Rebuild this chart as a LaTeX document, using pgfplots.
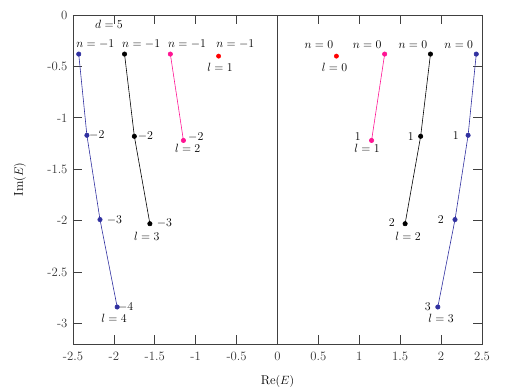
\documentclass[border=0pt]{standalone}
\usepackage{pgfplots}
\pgfplotsset{compat=1.18}
\definecolor{cblue}{RGB}{48,48,160}
\definecolor{cmag}{RGB}{255,20,147}
\definecolor{cred}{RGB}{255,0,0}
\begin{document}
\begin{tikzpicture}[font=\fontsize{12.8}{14}\selectfont]
\useasboundingbox (-73bp,-48bp) rectangle (433bp,344bp);
\begin{axis}[
  at={(0,0)}, anchor=south west,
  scale only axis, width=409bp, height=329bp,
  xmin=-2.5, xmax=2.5, ymin=-3.2, ymax=0,
  xtick={-2.5,-2,-1.5,-1,-0.5,0,0.5,1,1.5,2,2.5},
  xticklabels={-2.5,-2,-1.5,-1,-0.5,0,0.5,1,1.5,2,2.5},
  ytick={0,-0.5,-1,-1.5,-2,-2.5,-3},
  yticklabels={0,-0.5,-1,-1.5,-2,-2.5,-3},
  tick align=inside, major tick length=9bp,
  axis line style={black!75, line width=0.8pt},
  every tick/.style={black!75, line width=0.8pt},
  xticklabel style={yshift=-4bp, text=black!80},
  yticklabel style={xshift=-2bp, text=black!80},
  xlabel={Re$(E)$}, ylabel={Im$(E)$},
  every axis x label/.style={at={(axis description cs:0.5,-0.1146)}, anchor=center},
  every axis y label/.style={at={(axis description cs:-0.1296,0.5)}, anchor=center, rotate=90},
  clip=false,
]
\addplot[black!75, line width=0.8pt] coordinates {(0,0) (0,-3.2)};
% left side
\addplot[cblue, line width=0.6pt, mark=*, mark size=2.2pt] coordinates {(-2.43,-0.38) (-2.33,-1.17) (-2.17,-1.99) (-1.96,-2.84)};
\addplot[black, line width=0.6pt, mark=*, mark size=2.2pt] coordinates {(-1.87,-0.38) (-1.75,-1.18) (-1.56,-2.03)};
\addplot[cmag, line width=0.6pt, mark=*, mark size=2.2pt] coordinates {(-1.31,-0.38) (-1.15,-1.22)};
\addplot[cred, only marks, mark=*, mark size=2.2pt] coordinates {(-0.72,-0.40)};
% right side
\addplot[cblue, line width=0.6pt, mark=*, mark size=2.2pt] coordinates {(2.43,-0.38) (2.33,-1.17) (2.17,-1.99) (1.96,-2.84)};
\addplot[black, line width=0.6pt, mark=*, mark size=2.2pt] coordinates {(1.87,-0.38) (1.75,-1.18) (1.56,-2.03)};
\addplot[cmag, line width=0.6pt, mark=*, mark size=2.2pt] coordinates {(1.31,-0.38) (1.15,-1.22)};
\addplot[cred, only marks, mark=*, mark size=2.2pt] coordinates {(0.72,-0.40)};
% text
\node[anchor=center] at (axis cs:-2.06,-0.093) {$d=5$};
\node[anchor=west, inner sep=0pt, xshift=-2.5bp] at (axis cs:-2.43,-0.285) {$n=-1$};
\node[anchor=west, inner sep=0pt, xshift=-2.5bp] at (axis cs:-1.87,-0.285) {$n=-1$};
\node[anchor=west, inner sep=0pt, xshift=-2.5bp] at (axis cs:-1.31,-0.285) {$n=-1$};
\node[anchor=west, inner sep=0pt, xshift=-2.5bp] at (axis cs:-0.72,-0.285) {$n=-1$};
\node[anchor=east, inner sep=0pt, xshift=-3bp] at (axis cs:2.43,-0.285) {$n=0$};
\node[anchor=east, inner sep=0pt, xshift=-3bp] at (axis cs:1.87,-0.285) {$n=0$};
\node[anchor=east, inner sep=0pt, xshift=-3bp] at (axis cs:1.31,-0.285) {$n=0$};
\node[anchor=east, inner sep=0pt, xshift=-3bp] at (axis cs:0.72,-0.285) {$n=0$};
\node[anchor=west, inner sep=0pt] at (axis cs:-1.094,-1.189) {$-2$};
\node[anchor=west, inner sep=0pt] at (axis cs:-1.709,-1.179) {$-2$};
\node[anchor=west, inner sep=0pt] at (axis cs:-1.477,-2.021) {$-3$};
\node[anchor=west, inner sep=0pt] at (axis cs:-2.304,-1.169) {$-2$};
\node[anchor=west, inner sep=0pt] at (axis cs:-2.088,-1.998) {$-3$};
\node[anchor=west, inner sep=0pt] at (axis cs:-1.950,-2.841) {$-4$};
\node[anchor=east, inner sep=0pt] at (axis cs:1.021,-1.186) {$1$};
\node[anchor=east, inner sep=0pt] at (axis cs:1.669,-1.179) {$1$};
\node[anchor=east, inner sep=0pt] at (axis cs:1.436,-2.024) {$2$};
\node[anchor=east, inner sep=0pt] at (axis cs:2.219,-1.169) {$1$};
\node[anchor=east, inner sep=0pt] at (axis cs:2.035,-1.995) {$2$};
\node[anchor=east, inner sep=0pt] at (axis cs:1.876,-2.841) {$3$};
\node at (axis cs:-0.703,-0.505) {$l=1$};
\node at (axis cs:0.697,-0.505) {$l=0$};
\node at (axis cs:-1.098,-1.298) {$l=2$};
\node at (axis cs:1.094,-1.298) {$l=1$};
\node at (axis cs:-1.599,-2.157) {$l=3$};
\node at (axis cs:1.595,-2.157) {$l=2$};
\node at (axis cs:-1.999,-2.950) {$l=4$};
\node at (axis cs:1.999,-2.950) {$l=3$};
\end{axis}
\end{tikzpicture}
\end{document}
